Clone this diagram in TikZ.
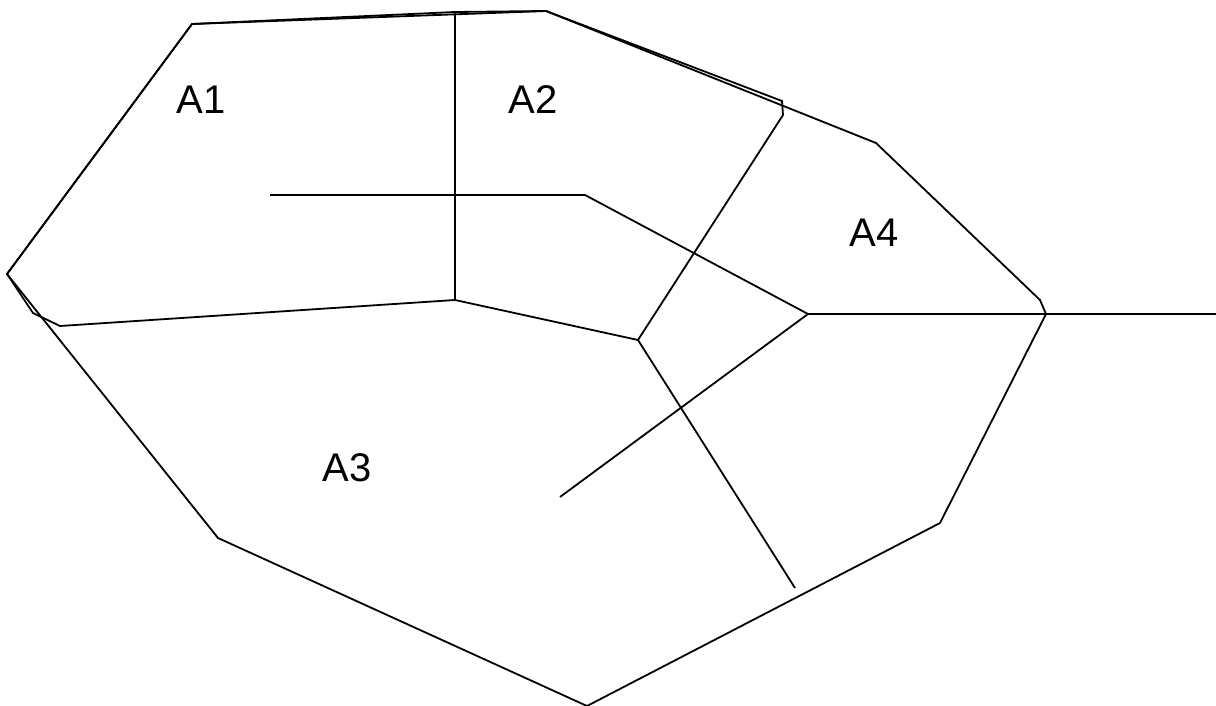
\documentclass[tikz,border=0pt]{standalone}
\usepackage{fontspec}
\setmainfont{Liberation Sans}
\usepackage{tikz}

\begin{document}
\begin{tikzpicture}[x=1pt,y=-1pt]
\tikzset{edge/.style={black,line width=1.8pt,line join=miter},
  region/.style={font=\fontsize{40}{48}\selectfont,inner sep=0pt}}
\useasboundingbox (0,0) rectangle (1216,706);
% corner points
\coordinate (pl) at (7,274);
\coordinate (ptl) at (192,24);
\coordinate (pm) at (455,12);
\coordinate (ptr) at (546,11);
\coordinate (pk) at (782,101);
\coordinate (pk2) at (783,115);
\coordinate (pc) at (638,340);
\coordinate (pb) at (455,300);
\coordinate (q1) at (33,313);
\coordinate (q2) at (60,326);
\coordinate (pr) at (808,314);
% outer polygon
\draw[edge] (pl) -- (ptl) -- (ptr) -- (876,143) -- (1040,300) -- (1046,314)
  -- (940,523) -- (587,706) -- (218,538) -- cycle;
% upper cells
\draw[edge] (pl) -- (ptl) -- (pm) -- (ptr) -- (pk) -- (pk2) -- (pc) -- (pb)
  -- (q2) -- (q1) -- cycle;
\draw[edge] (pm) -- (pb);
% other lines
\draw[edge] (270,195) -- (585,195) -- (pr) -- (1216,314);
\draw[edge] (560,497) -- (pr);
\draw[edge] (pc) -- (795,588);
% labels
\node[region] (a1) at (201,100) {A1};
\node[region] (a2) at (533,100) {A2};
\node[region] (a4) at (874,233) {A4};
\node[region] (a3) at (347,468) {A3};
\end{tikzpicture}
\end{document}
